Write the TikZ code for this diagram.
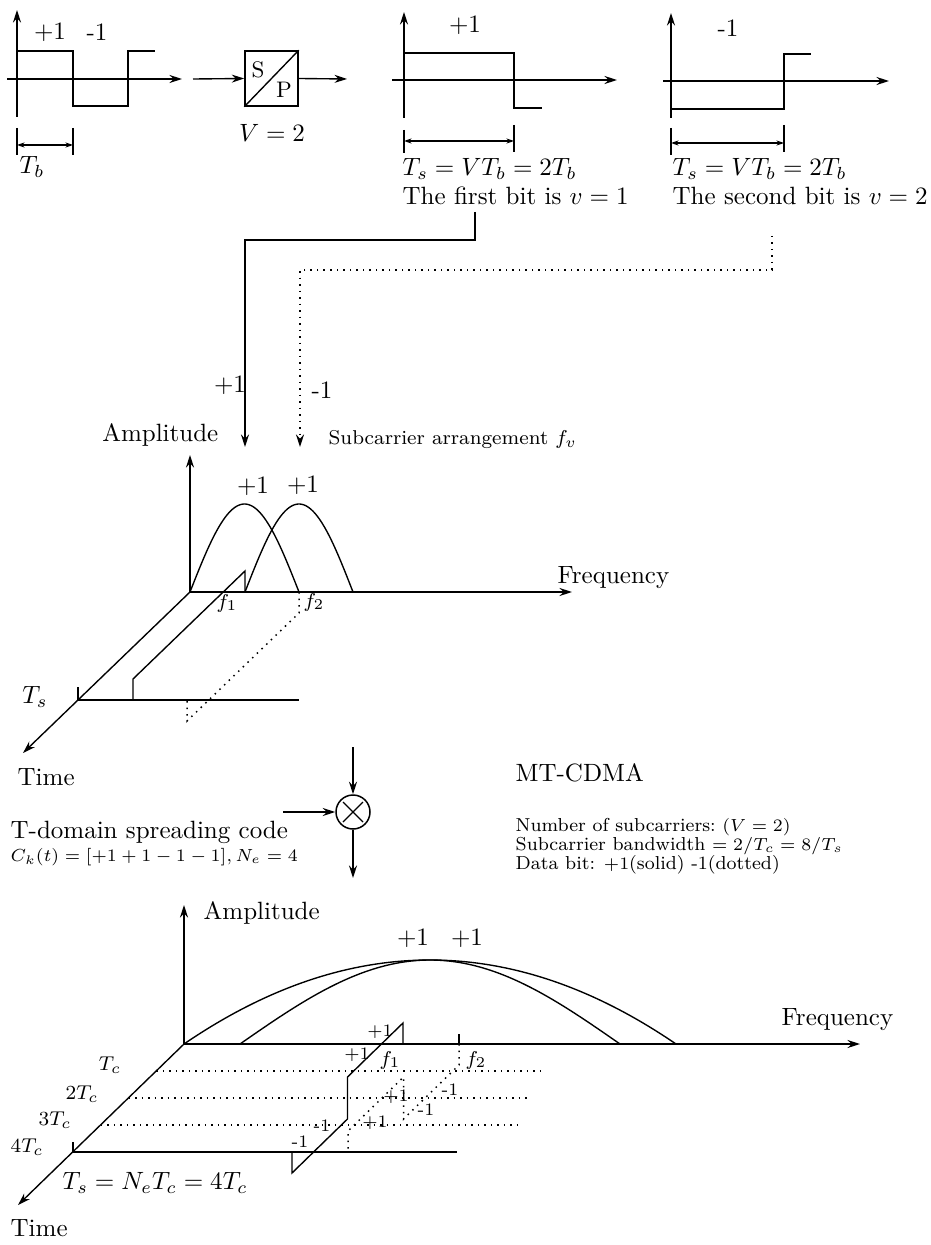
\documentclass[tikz,border=0pt]{standalone}
\usetikzlibrary{arrows.meta}
\begin{document}
\begin{tikzpicture}[x=0.4pt,y=-0.4pt,line width=0.55pt,
  >={Stealth[length=5pt,width=3.2pt]},
  brk/.style={{Stealth[length=3pt,width=2pt]}-{Stealth[length=3pt,width=2pt]},line width=0.5pt},
  dotline/.style={dotted,line width=0.6pt},
  lbl/.style={inner sep=0pt,font=\normalsize},
  sm/.style={inner sep=0pt,font=\footnotesize},
  note/.style={inner sep=0pt,font=\fontsize{7.5}{9}\selectfont},
  chip/.style={inner sep=0pt,font=\scriptsize}]
\useasboundingbox (0,0) rectangle (931,1245);

% ---------- input bit stream ----------
\draw[->] (17,117) -- (17,10);
\draw[->] (7,79) -- (182,79);
\draw (17,51) -- (73,51) -- (73,106) -- (128,106) -- (128,51) -- (155,51);
\node[lbl] (p1) at (50,32) {$+1$};
\node[lbl] (m1) at (97,32) {-1};
\draw (17,128) -- (17,155); \draw (73,128) -- (73,155);
\draw[brk] (17,145) -- (73,145);
\node[lbl] (tb) at (32,167) {$T_b$};

% ---------- S/P converter ----------
\node[draw,minimum width=21.2pt,minimum height=22pt,inner sep=0pt,line width=0.6pt] (sp) at (271.5,78.5) {};
\draw (sp.south west) -- (sp.north east);
\node[inner sep=0pt,font=\small] (s) at (258,70) {S};
\node[inner sep=0pt,font=\small] (p) at (284,90) {P};
\coordinate (spin) at (193,79);
\coordinate (spout) at (347,79);
\draw[->] (spin) -- (sp.west);
\draw[->] (sp.east) -- (spout);
\node[lbl] (v2) at (272,133) {$V=2$};

% ---------- first parallel bit ----------
\draw[->] (404,118) -- (404,12);
\draw[->] (392,80) -- (617,80);
\draw (404,53) -- (514,53) -- (514,108) -- (542,108);
\node[lbl] (p2) at (465,25) {$+1$};
\draw (404,130) -- (404,153); \draw (514,125) -- (514,152);
\draw[brk] (404,141) -- (514,141);
\node[lbl,anchor=west] (ts1) at (402,169) {$T_s=VT_b=2T_b$};
\node[lbl,anchor=west] (b1) at (402,196) {The first bit is $v=1$};

% ---------- second parallel bit ----------
\draw[->] (671,118) -- (671,13);
\draw[->] (663,81) -- (889,81);
\draw (671,109) -- (784,109) -- (784,54) -- (811,54);
\node[lbl] (m2) at (728,28) {-1};
\draw (671,128) -- (671,155); \draw (784,125) -- (784,152);
\draw[brk] (671,143) -- (784,143);
\node[lbl,anchor=west] (ts2) at (672,169) {$T_s=VT_b=2T_b$};
\node[lbl,anchor=west] (b2) at (672,196) {The second bit is $v=2$};

% ---------- connectors to subcarriers ----------
\coordinate (c1) at (475,212);
\coordinate (k1) at (245,240);
\coordinate (a1) at (245,447);
\draw[->] (c1) |- (k1) -- (a1);
\coordinate (c2) at (772,236);
\coordinate (k2) at (300,270);
\coordinate (a2) at (300,447);
\draw[->,dotline] (c2) |- (k2) -- (a2);
\node[lbl] (cp) at (230,385) {$+1$};
\node[lbl] (cm) at (322,390) {-1};
\node[sm,anchor=west] (sa) at (328,440) {Subcarrier arrangement $f_v$};

% ---------- upper 3-D plot ----------
\coordinate (O1) at (190,592);
\draw[->] (O1) -- (190,455);
\draw[->] (O1) -- (572,592);
\draw[->] (O1) -- (23,753);
\node[lbl,anchor=east] (amp1) at (219,435) {Amplitude};
\node[lbl,anchor=west] (fr1) at (557,578) {Frequency};
\node[lbl,anchor=west] (ti1) at (17,777) {Time};
\draw plot[domain=0:180,samples=60,smooth] ({190+(\x/180)*109},{592-88*sin(\x)});
\draw plot[domain=0:180,samples=60,smooth] ({245+(\x/180)*108},{592-88*sin(\x)});
\node[lbl] (h1) at (253,486) {$+1$};
\node[lbl] (h2) at (303,485) {$+1$};
\draw (245,592) -- (245,571) -- (133,679) -- (133,700);
\draw (78,700) -- (299,700);
\draw (78,687) -- (78,700);
\draw[dotline] (299,592) -- (299,613) -- (187,721) -- (187,700);
\node[sm] (f1a) at (227,603) {$f_1$};
\node[sm] (f2a) at (314,602) {$f_2$};
\node[lbl] (tsa) at (35,697) {$T_s$};

% ---------- spreading multiplier ----------
\coordinate (min) at (353,747);
\coordinate (cin) at (283,812);
\coordinate (mout) at (353,878);
\node[circle,draw,minimum size=13.6pt,inner sep=0pt,line width=0.6pt] (mul) at (353,812) {};
\draw (mul.center) ++(-10,-10) -- ++(20,20);
\draw (mul.center) ++(-10,10) -- ++(20,-20);
\draw[->] (min) -- (mul.north);
\draw[->] (cin) -- (mul.west);
\draw[->] (mul.south) -- (mout);
\node[lbl,anchor=west] (tds) at (10,832) {T-domain spreading code};
\node[note,anchor=west] (ck) at (10,857) {$C_k(t)=[+1+1-1-1],N_e=4$};
\node[lbl,anchor=west] (mt) at (515,773) {MT-CDMA};
\node[note,anchor=west] (n1) at (515,827) {Number of subcarriers:\ $(V=2)$};
\node[note,anchor=west] (n2) at (515,846) {Subcarrier bandwidth $=2/T_c=8/T_s$};
\node[note,anchor=west] (n3) at (515,865) {Data bit: $+1$(solid) -1(dotted)};

% ---------- lower 3-D plot ----------
\coordinate (O2) at (184,1044);
\draw[->] (O2) -- (184,905);
\draw[->] (O2) -- (860,1044);
\draw[->] (O2) -- (18,1205);
\node[lbl,anchor=west] (amp2) at (203,913) {Amplitude};
\node[lbl,anchor=west] (fr2) at (781,1020) {Frequency};
\node[lbl,anchor=west] (ti2) at (10,1228) {Time};
\draw plot[domain=0:1,samples=80,smooth] ({184+492*\x},{1044-336*\x*(1-\x)});
\draw plot[domain=0:180,samples=80,smooth] ({240+(\x/180)*380},{1044-84*sin(\x)});
\node[lbl] (h3) at (413,938) {$+1$};
\node[lbl] (h4) at (467,938) {$+1$};
% chip lines
\draw[dotline] (156.25,1071) -- (540,1071);
\draw[dotline] (128.5,1098) -- (530,1098);
\draw[dotline] (100.75,1125) -- (520,1125);
\draw (73,1152) -- (457,1152);
\draw (73,1142) -- (73,1152);
\node[sm] (tc1) at (110,1065) {$T_c$};
\node[sm] (tc2) at (82,1094) {$2T_c$};
\node[sm] (tc3) at (55,1120) {$3T_c$};
\node[sm] (tc4) at (27,1147) {$4T_c$};
% spread data
\draw (403,1044) -- (403,1023) -- (347.5,1077) -- (347.5,1119) -- (292,1173) -- (292,1152);
\draw (459,1034) -- (459,1044);
\draw[dotline] (459,1044) -- (459,1065) -- (403.5,1119) -- (403.5,1077) -- (348,1131) -- (348,1152);
\node[sm] (f1b) at (390,1060) {$f_1$};
\node[sm] (f2b) at (476,1060) {$f_2$};
\node[chip] (q1) at (380,1032) {$+1$};
\node[chip] (q2) at (357,1055) {$+1$};
\node[chip] (q3) at (322,1126) {-1};
\node[chip] (q4) at (300,1142) {-1};
\node[chip] (r1) at (450,1090) {-1};
\node[chip] (r2) at (426,1110) {-1};
\node[chip] (r3) at (396,1097) {$+1$};
\node[chip] (r4) at (375,1123) {$+1$};
\node[lbl,anchor=west] (tsb) at (62,1183) {$T_s=N_eT_c=4T_c$};
\end{tikzpicture}
\end{document}
